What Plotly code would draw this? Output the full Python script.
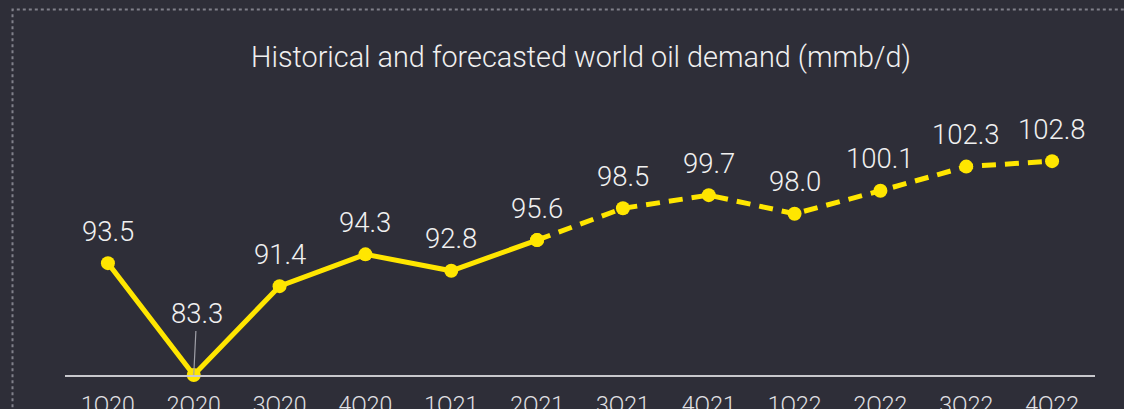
import plotly.graph_objects as go

quarters = ["1Q20", "2Q20", "3Q20", "4Q20", "1Q21", "2Q21",
            "3Q21", "4Q21", "1Q22", "2Q22", "3Q22", "4Q22"]
demand = [93.5, 83.3, 91.4, 94.3, 92.8, 95.6, 98.5, 99.7, 98.0, 100.1, 102.3, 102.8]
historical_count = 6  # 1Q20..2Q21 historical, rest forecast

YELLOW = "#ffe600"
BG = "#2e2e38"
TXT = "#f0f0f0"
FONT = "Roboto"

hist_x = quarters[:historical_count]
hist_y = demand[:historical_count]
fc_x = quarters[historical_count - 1:]
fc_y = demand[historical_count - 1:]

fig = go.Figure()
fig.add_trace(go.Scatter(x=fc_x, y=fc_y, mode="lines+markers",
                         line=dict(color=YELLOW, width=5, dash="14px,9px"),
                         marker=dict(color=YELLOW, size=14),
                         cliponaxis=False, hoverinfo="skip"))
fig.add_trace(go.Scatter(x=hist_x, y=hist_y, mode="lines+markers",
                         line=dict(color=YELLOW, width=5),
                         marker=dict(color=YELLOW, size=14),
                         cliponaxis=False, hoverinfo="skip"))

annotations = []
for q, v in zip(quarters, demand):
    if v == min(demand):
        annotations.append(dict(x=q, y=v, text=f"{v:.1f}", showarrow=True,
                                arrowhead=0, arrowwidth=1.2, arrowcolor="#a0a0a8",
                                ax=3, ay=-62, standoff=0,
                                font=dict(size=27.5, color=TXT, family=FONT, weight=300)))
    else:
        annotations.append(dict(x=q, y=v, text=f"{v:.1f}", showarrow=False,
                                yshift=32,
                                font=dict(size=27.5, color=TXT, family=FONT, weight=300)))

fig.update_layout(
    width=1124, height=409,
    paper_bgcolor=BG, plot_bgcolor=BG,
    margin=dict(l=65, r=29, t=137, b=34),
    showlegend=False,
    font=dict(family=FONT, color=TXT),
    title=dict(text="Historical and forecasted world oil demand (mmb/d)",
               x=(581 - 65) / 1030, xref="paper",
               xanchor="center", y=1 - 57 / 409, yanchor="middle",
               font=dict(size=28.8, color=TXT, family=FONT, weight=300)),
    xaxis=dict(type="category", categoryorder="array", categoryarray=quarters,
               range=[-0.5, len(quarters) - 0.5],
               automargin=False, showgrid=False, zeroline=False,
               showline=True, linecolor="#c8c8cc", linewidth=2,
               ticks="", ticklabelstandoff=8,
               tickfont=dict(size=23, color="#e0e0e4", family=FONT, weight=300)),
    yaxis=dict(range=[83.3, 105], visible=False, showgrid=False),
    annotations=annotations,
    shapes=[dict(type="rect", xref="paper", yref="paper",
                 x0=(12.5 - 65) / 1030, x1=1.2,
                 y0=-0.6, y1=(375 - 9.5) / 238,
                 line=dict(color="#80808a", width=2, dash="dot"),
                 fillcolor="rgba(0,0,0,0)", layer="below")],
)

fig.write_html("out.html")
